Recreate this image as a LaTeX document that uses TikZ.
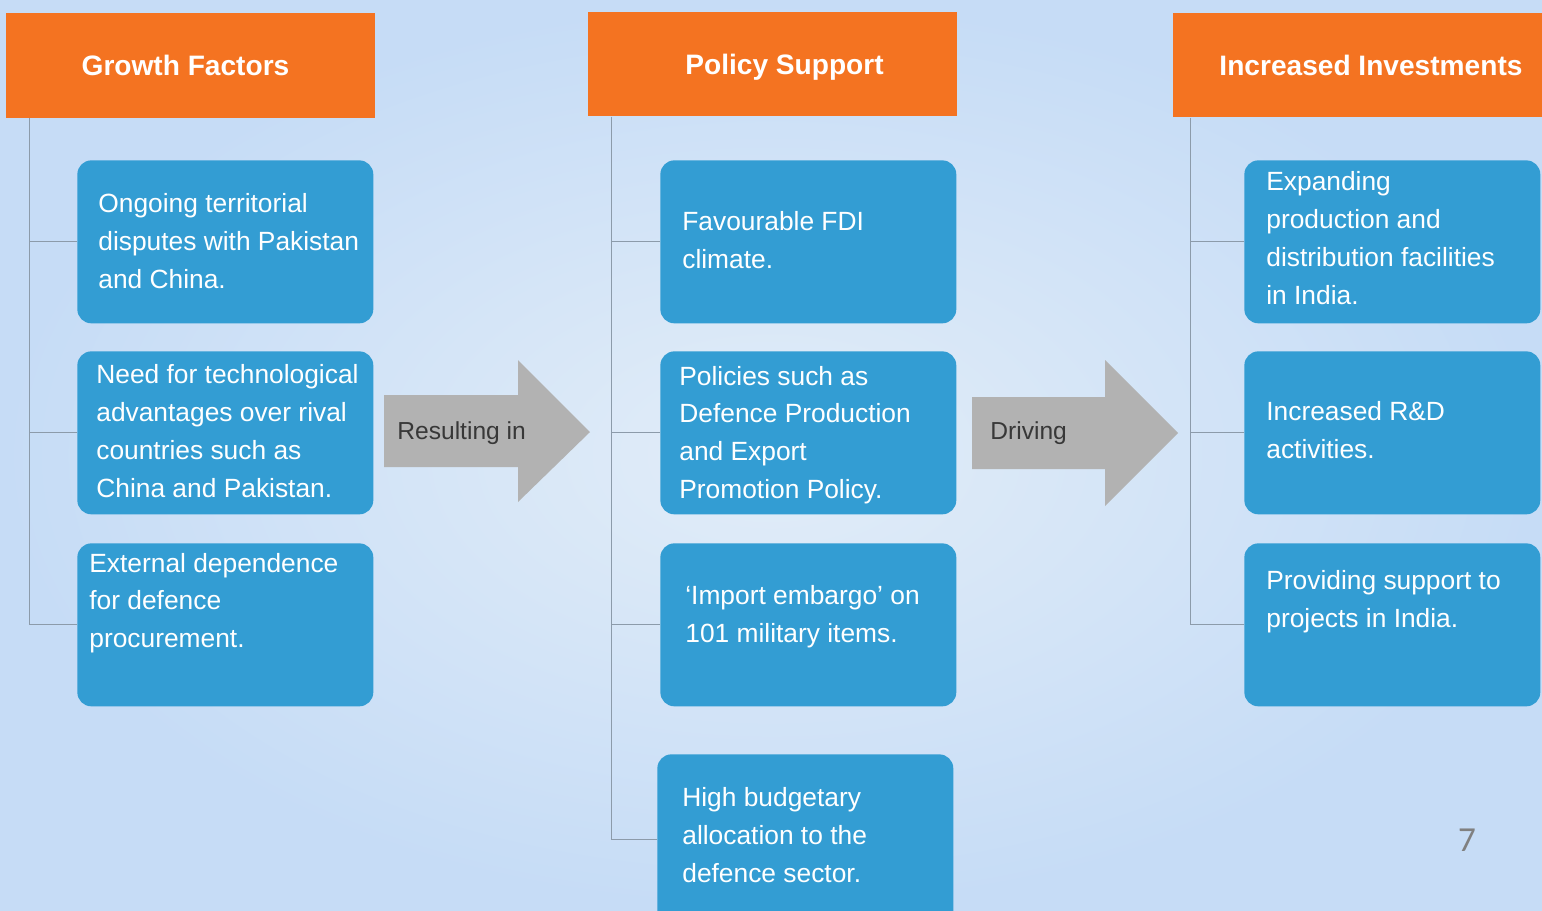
\documentclass[tikz,border=0pt]{standalone}
\usepackage{fontspec}
\setmainfont{Liberation Sans}
\newfontfamily\pagefont{Carlito}
\definecolor{headorange}{HTML}{F47321}
\definecolor{boxblue}{HTML}{339DD3}
\definecolor{arrowgrey}{HTML}{B2B2B2}
\definecolor{linegrey}{HTML}{8C9BAA}
\definecolor{flowtextgrey}{HTML}{383838}
\definecolor{bginner}{HTML}{E2EDF8}
\definecolor{bgouter}{HTML}{C6DCF6}
\tikzset{
  head/.style={fill=headorange, text=white, font=\fontsize{16}{19}\selectfont\bfseries, minimum height=2.1cm, inner sep=0pt, text height=11.5pt, text depth=0pt},
  itembox/.style={fill=boxblue, rounded corners=0.28cm, minimum width=5.92cm, minimum height=3.26cm, inner sep=0pt, anchor=north west},
  itemtext/.style={anchor=west, align=left, text=white, font=\fontsize{15}{21.5}\selectfont, inner sep=0pt},
  spine/.style={draw=linegrey, line width=0.6pt},
  flow/.style={fill=arrowgrey},
  flowtext/.style={anchor=west, text=flowtextgrey, font=\fontsize{14}{17}\selectfont, inner sep=0pt},
}
\begin{document}
\begin{tikzpicture}[x=0.02cm, y=-0.02cm]
\useasboundingbox (0,0) rectangle (1542,910);
\clip (0,0) rectangle (1542,910);
% background
\shade[inner color=bginner, outer color=bgouter] (0,0) rectangle (1542,910);

% column headers
\node[head, minimum width=7.38cm] (gf) at (190.5,65.5) {Growth Factors\hspace*{0.2cm}};
\node[head, minimum width=7.38cm] (ps) at (772.5,64) {\hspace*{0.48cm}Policy Support};
\node[head, minimum width=7.92cm] (ii) at (1371,65) {Increased Investments};

% growth factors
\node[itembox] (g1) at (77,160) {};
\node[itembox] (g2) at (77,351) {};
\node[itembox] (g3) at (77,543) {};
\node[itemtext] (g1t) at (98,241) {Ongoing territorial\\disputes with Pakistan\\and China.};
\node[itemtext] (g2t) at (96,431) {Need for technological\\advantages over rival\\countries such as\\China and Pakistan.};
\node[itemtext] (g3t) at (89,603) {External dependence\\for defence\\procurement.};

% policy support
\node[itembox] (p1) at (660,160) {};
\node[itembox] (p2) at (660,351) {};
\node[itembox] (p3) at (660,543) {};
\node[itembox, minimum height=3.4cm] (p4) at (657,754) {};
\node[itemtext] (p1t) at (682,240) {Favourable FDI\\climate.};
\node[itemtext] (p2t) at (679,435) {Policies such as\\Defence Production\\and Export\\Promotion Policy.};
\node[itemtext] (p3t) at (685,617) {`Import embargo' on\\101 military items.};
\node[itemtext] (p4t) at (682,835) {High budgetary\\allocation to the\\defence sector.};

% increased investments
\node[itembox] (i1) at (1244,160) {};
\node[itembox] (i2) at (1244,351) {};
\node[itembox] (i3) at (1244,543) {};
\node[itemtext] (i1t) at (1266,238) {Expanding\\production and\\distribution facilities\\in India.};
\node[itemtext] (i2t) at (1266,430) {Increased R\&D\\activities.};
\node[itemtext] (i3t) at (1266,602) {Providing support to\\projects in India.};

% tree lines
\coordinate (gfs) at ([xshift=0.48cm]gf.south west);
\coordinate (pss) at ([xshift=0.48cm]ps.south west);
\coordinate (iis) at ([xshift=0.36cm]ii.south west);
\foreach \b in {g1,g2,g3}
  \draw[spine] (gfs) |- (\b.west);
\foreach \b in {p1,p2,p3,p4}
  \draw[spine] (pss) |- (\b.west);
\foreach \b in {i1,i2,i3}
  \draw[spine] (iis) |- (\b.west);

% block arrows
\fill[flow] (384,395) -- (518,395) -- (518,360) -- (590,432) -- (518,502) -- (518,467) -- (384,467) -- cycle;
\node[flowtext] (res) at (397,433) {Resulting in};
\fill[flow] (972,397) -- (1105,397) -- (1105,360) -- (1178,433) -- (1105,506) -- (1105,469) -- (972,469) -- cycle;
\node[flowtext] (drv) at (990,433) {Driving};

% page number
\node[text=gray, font=\pagefont\fontsize{20}{24}\selectfont] (pg) at (1467,840) {7};
\end{tikzpicture}
\end{document}
